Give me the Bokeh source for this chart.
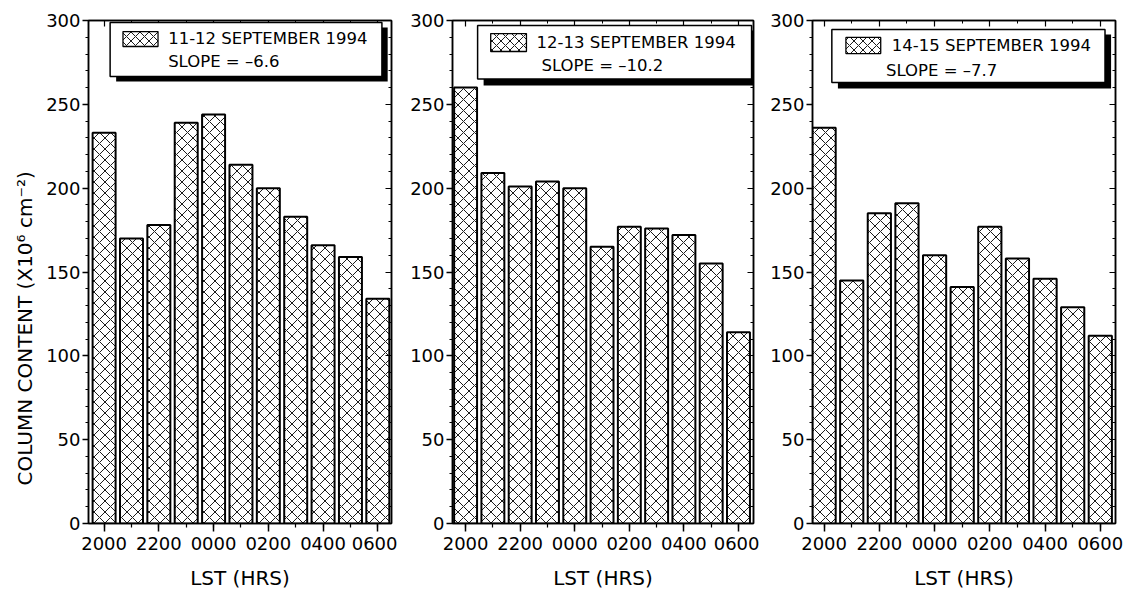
from bokeh.plotting import figure
from bokeh.models import (ColumnDataSource, LinearAxis, SingleIntervalTicker,
                          Range1d, BoxAnnotation, Label, Title, CustomLabelingPolicy)
from bokeh.layouts import row
from bokeh.embed import file_html
from bokeh.resources import INLINE

# ---- data ----
lst_hours = ["2000", "2100", "2200", "2300", "0000", "0100",
             "0200", "0300", "0400", "0500", "0600"]
x_ticks = [0, 2, 4, 6, 8, 10]
x_tick_labels = ["2000", "2200", "0000", "0200", "0400", "0600"]
sep_11_12 = [233, 170, 178, 239, 244, 214, 200, 183, 166, 159, 134]
sep_12_13 = [260, 209, 201, 204, 200, 165, 177, 176, 172, 155, 114]
sep_14_15 = [236, 145, 185, 191, 160, 141, 177, 158, 146, 129, 112]
titles = ["11-12 SEPTEMBER 1994", "12-13 SEPTEMBER 1994", "14-15 SEPTEMBER 1994"]
slopes = ["SLOPE = \u20136.6", "SLOPE = \u201310.2", "SLOPE = \u20137.7"]
y_title = "COLUMN CONTENT (X10\u2076 cm\u207b\u00b2)"

FONT = "DejaVu Sans"


def no_labels():
    return CustomLabelingPolicy(code="""
        for (const i of [...indices]) indices.unset(i)
        return indices
    """)


def make_panel(values, title, slope, width, left, right, xr, leg, ylabel=None):
    p = figure(width=width, height=594, output_backend="svg", toolbar_location=None,
               x_range=Range1d(*xr), y_range=Range1d(0, 300),
               min_border_left=left, min_border_right=right,
               min_border_top=20, min_border_bottom=71,
               background_fill_color="white", border_fill_color="white")
    p.xgrid.visible = False
    p.ygrid.visible = False
    p.outline_line_color = "black"
    p.outline_line_width = 1.5

    src = ColumnDataSource(dict(x=list(range(len(lst_hours))), top=values, hour=lst_hours))
    p.vbar(x="x", top="top", width=0.84, source=src, fill_color="white",
           line_color="black", line_width=2, hatch_pattern="x", hatch_color="black",
           hatch_scale=11, hatch_weight=0.9)

    # axes
    xa = p.xaxis[0]
    xa.ticker = SingleIntervalTicker(interval=2, num_minor_ticks=2)
    xa.major_label_overrides = {t: l for t, l in zip(x_ticks, x_tick_labels)}
    ya = p.yaxis[0]
    ya.ticker = SingleIntervalTicker(interval=50, num_minor_ticks=5)
    for ax in (xa, ya):
        ax.axis_line_width = 1.5
        ax.major_tick_line_width = 1.5
        ax.minor_tick_line_width = 1.2
        ax.major_label_text_font = FONT
        ax.major_label_text_font_size = "18px"
        ax.major_label_text_color = "black"
        ax.axis_label_text_font = FONT
        ax.axis_label_text_font_style = "normal"
        ax.axis_label_text_font_size = "20px"
        ax.axis_label_text_color = "black"
    xa.major_tick_out = 8
    xa.major_tick_in = 0
    xa.minor_tick_out = 4
    xa.minor_tick_in = 0
    xa.major_label_standoff = 5
    xa.axis_label = "LST (HRS)"
    xa.axis_label_standoff = 13
    ya.major_tick_out = 6
    ya.major_tick_in = 0
    ya.minor_tick_out = 3
    ya.minor_tick_in = 0
    ya.major_label_standoff = 2

    ra = LinearAxis(ticker=SingleIntervalTicker(interval=50, num_minor_ticks=5))
    ta = LinearAxis(ticker=SingleIntervalTicker(interval=2, num_minor_ticks=2))
    for ax in (ra, ta):
        ax.major_label_policy = no_labels()
        ax.major_label_text_font_size = "0px"
        ax.major_label_standoff = 0
        ax.major_tick_in = 6
        ax.major_tick_out = 0
        ax.minor_tick_in = 3
        ax.minor_tick_out = 0
        ax.axis_line_width = 1.5
        ax.major_tick_line_width = 1.2
        ax.minor_tick_line_width = 1.0
    p.add_layout(ra, "right")
    p.add_layout(ta, "above")

    if ylabel:
        p.add_layout(Title(text=ylabel, align="left", offset=38, standoff=14,
                           vertical_align="bottom", text_font=FONT,
                           text_font_size="20px", text_font_style="normal",
                           text_color="black"), "left")

    # legend box with shadow
    (bx0, bx1, by0, by1), (sx0, sx1, sy0, sy1), (wx0, wx1, wy0, wy1), (t1x, t1y), (t2x, t2y) = leg
    p.add_layout(BoxAnnotation(left=sx0, right=sx1, bottom=sy0, top=sy1,
                               fill_color="black", fill_alpha=1, line_alpha=0))
    p.add_layout(BoxAnnotation(left=bx0, right=bx1, bottom=by0, top=by1,
                               fill_color="white", fill_alpha=1, line_color="black",
                               line_alpha=1, line_width=1.5))
    p.add_layout(BoxAnnotation(left=wx0, right=wx1, bottom=wy0, top=wy1,
                               fill_color="white", fill_alpha=1, line_color="black",
                               line_alpha=1, line_width=1.3, hatch_pattern="x",
                               hatch_color="black", hatch_scale=9, hatch_weight=0.9))
    p.add_layout(Label(x=t1x, y=t1y, text=title, text_font=FONT, text_font_size="16.5px",
                       text_baseline="middle", text_align="left", text_color="black"))
    p.add_layout(Label(x=t2x, y=t2y, text=slope, text_font=FONT, text_font_size="16.5px",
                       text_baseline="middle", text_align="left", text_color="black"))
    return p


leg1 = ((0.22, 10.15, 266.6, 298.8), (0.44, 10.36, 263.6, 295.8),
        (0.69, 1.97, 284.5, 293.4), (2.34, 289.3), (2.34, 275.5))
leg2 = ((0.44, 10.48, 265.1, 297.0), (0.66, 10.66, 261.2, 294.0),
        (0.92, 2.23, 281.5, 292.2), (2.60, 286.9), (2.78, 273.2))
leg3 = ((0.28, 10.17, 263.0, 294.6), (0.50, 10.39, 259.4, 291.6),
        (0.79, 2.05, 280.3, 289.9), (2.45, 285.1), (2.24, 270.0))

p1 = make_panel(sep_11_12, titles[0], slopes[0], 88 + 303 + 6, 88, 6, (-0.57, 10.5), leg1,
                ylabel=y_title)
p2 = make_panel(sep_12_13, titles[1], slopes[1], 55 + 301 + 6, 55, 6, (-0.48, 10.55), leg2)
p3 = make_panel(sep_14_15, titles[2], slopes[2], 53 + 303 + 31, 53, 31, (-0.42, 10.55), leg3)

layout = row(p1, p2, p3)
open("out.html", "w").write(file_html(layout, INLINE))
